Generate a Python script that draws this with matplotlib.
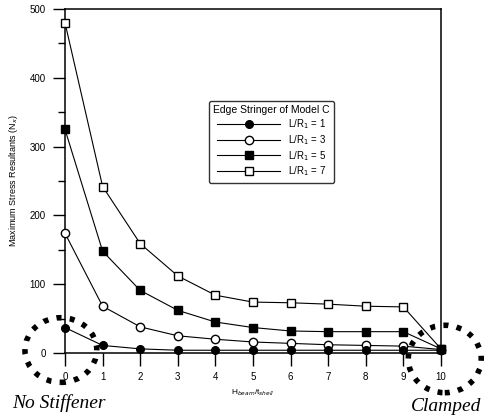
import matplotlib.pyplot as plt
from matplotlib.patches import Ellipse

# H_beam / t_shell
x = [0, 1, 2, 3, 4, 5, 6, 7, 8, 9, 10]

# maximum stress resultants for each L/R1
lr1 = [37, 11, 6, 4, 4, 4, 4, 4, 4, 4, 4]
lr3 = [174, 68, 38, 25, 20, 16, 14, 12, 11, 10, 5]
lr5 = [325, 148, 91, 62, 45, 37, 32, 31, 31, 31, 6]
lr7 = [480, 242, 159, 112, 84, 74, 73, 71, 68, 67, 6]

series_labels = ['L/R$_1$ = 1', 'L/R$_1$ = 3', 'L/R$_1$ = 5', 'L/R$_1$ = 7']

plt.rcParams['font.family'] = ['Liberation Sans', 'DejaVu Sans']

W, H = 488, 419
fig = plt.figure(figsize=(W / 100, H / 100), dpi=100)
ax = fig.add_axes([65 / W, 1 - 353 / H, (441 - 65) / W, (353 - 9) / H])

ax.plot(x, lr1, 'k-', lw=0.8, marker='o', ms=5.5, mfc='black', label=series_labels[0], clip_on=False, zorder=6)
ax.plot(x, lr3, 'k-', lw=0.8, marker='o', ms=6, mfc='white', label=series_labels[1], clip_on=False, zorder=4)
ax.plot(x, lr5, 'k-', lw=0.8, marker='s', ms=5.5, mfc='black', label=series_labels[2], clip_on=False, zorder=5)
ax.plot(x, lr7, 'k-', lw=0.8, marker='s', ms=6, mfc='white', label=series_labels[3], clip_on=False, zorder=3)

ax.set_xlim(0, 10)
ax.set_ylim(0, 500)
ax.set_xticks(range(0, 11))
ax.set_yticks(range(0, 501, 100))
ax.set_yticks(range(50, 500, 100), minor=True)
ax.tick_params(axis='both', direction='out', length=9, width=1, labelsize=7, pad=5)
ax.tick_params(axis='y', which='minor', direction='out', length=5, width=1)
for s in ax.spines.values():
    s.set_linewidth(1.1)

ax.set_xlabel('H$_{beam}$/t$_{shell}$', fontsize=6, labelpad=4)
ax.set_ylabel('Maximum Stress Resultants (N$_x$)', fontsize=6.5, labelpad=7)

leg = ax.legend(title='Edge Stringer of Model C', loc='upper left',
                bbox_to_anchor=((209 - 65) / 376, (353 - 101) / 344),
                borderaxespad=0, fontsize=7, title_fontsize=7.5, frameon=True,
                fancybox=True, edgecolor='black', handlelength=6.5,
                labelspacing=0.2, borderpad=0.45, handletextpad=0.8)
leg.get_frame().set_linewidth(1.0)
leg.set_zorder(10)

# dotted circles marking the two limit cases
for cx, cy, w, h in [(-0.11, 4.3, 1.91, 94), (10.1, -8.7, 1.94, 98)]:
    e = Ellipse((cx, cy), w, h, fill=False, ec='black', lw=4,
                ls=(0, (0.9, 1.5)), clip_on=False, zorder=7)
    ax.add_patch(e)

fig.text(59 / W, 1 - 403 / H, 'No Stiffener', family='Liberation Serif',
         style='italic', fontsize=14, ha='center', va='center')
fig.text(446 / W, 1 - 406 / H, 'Clamped', family='Liberation Serif',
         style='italic', fontsize=14, ha='center', va='center')

fig.savefig('out.png', dpi=100)
